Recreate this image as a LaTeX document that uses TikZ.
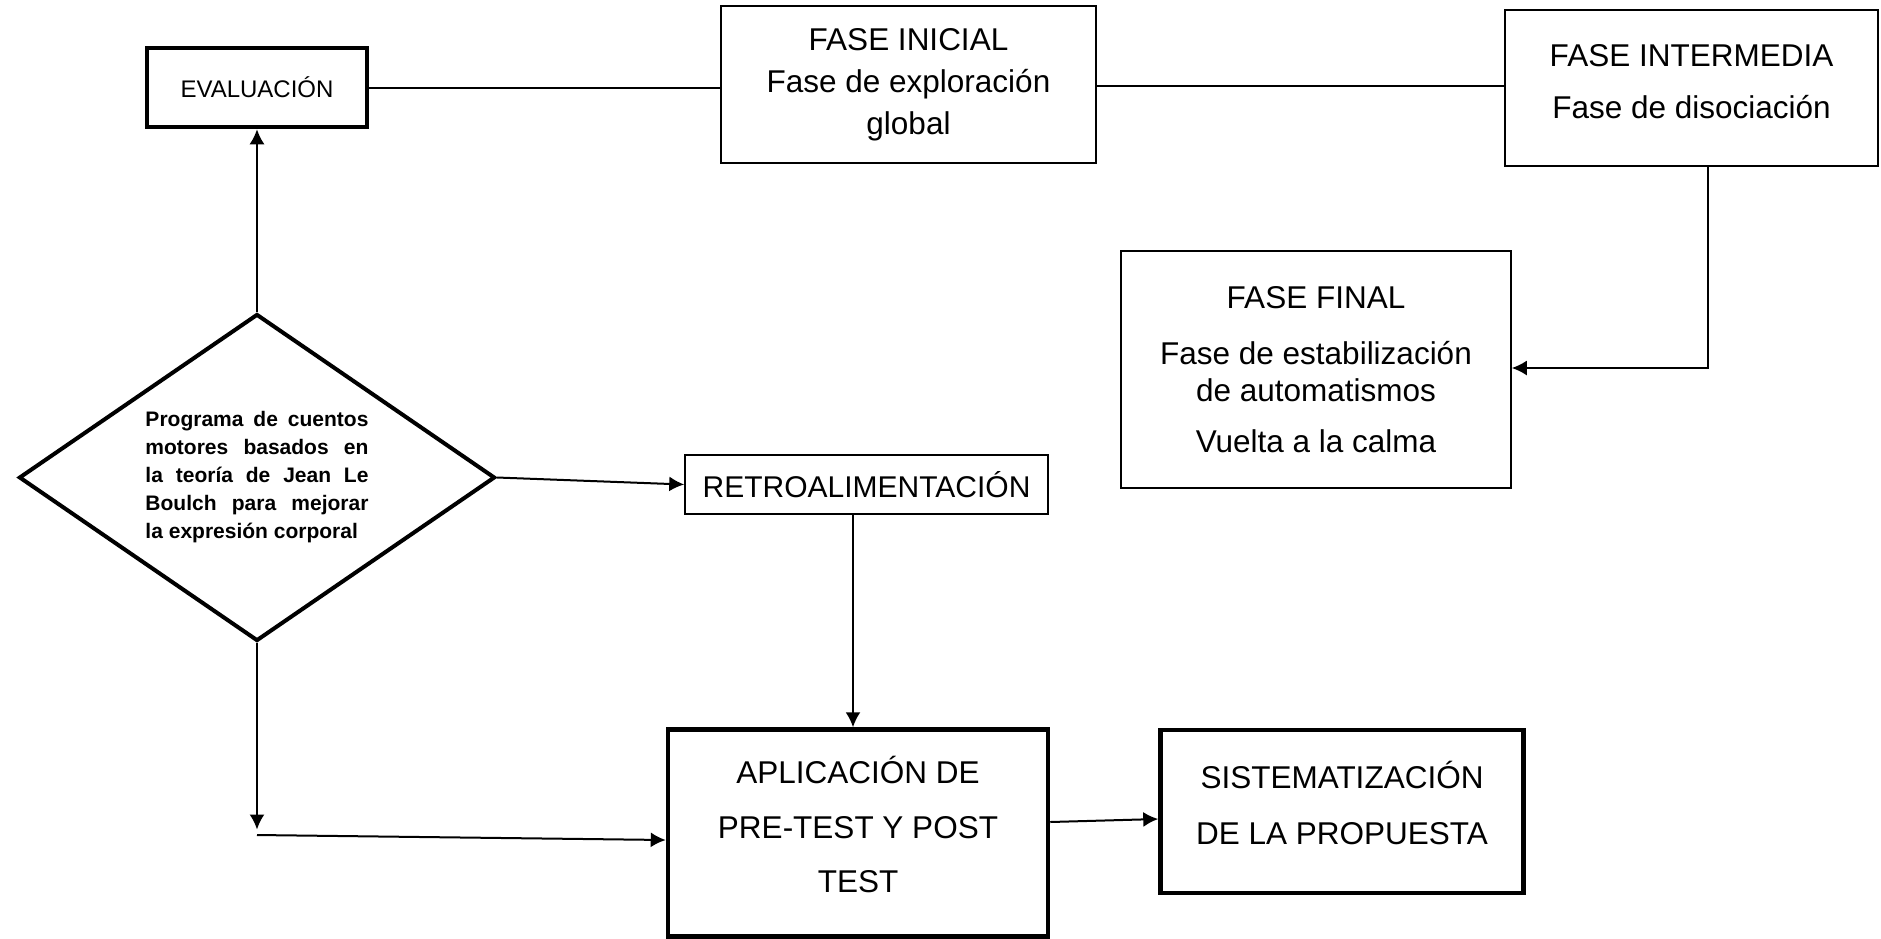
\documentclass[tikz,border=0pt]{standalone}
\usepackage{fontspec}
\setmainfont{Liberation Sans}
\usepackage{tikz}
\usetikzlibrary{shapes,arrows.meta,calc}
\tikzstyle{box} = [rectangle, draw, line width=1.5pt, align=center, inner sep=0pt,
    font=\fontsize{31.5}{37}\selectfont]
\tikzstyle{boldbox} = [box, line width=4.5pt]
\tikzstyle{decision} = [diamond, draw, line width=4pt, aspect=1.456, inner sep=0pt,
    minimum width=476pt, minimum height=327pt, text width=223pt, align=justify,
    font=\fontsize{21}{28}\selectfont\bfseries]
\tikzstyle{line} = [draw, line width=2pt, -{Latex[length=15pt,width=15pt]}]

\begin{document}
\begin{tikzpicture}[node distance = 200pt, auto]
    \useasboundingbox (-257pt,87.5pt) rectangle (1624pt,-850.5pt);
    % Place nodes
    \node [boldbox, minimum width=220pt, minimum height=79pt, font=\fontsize{24}{29}\selectfont] (eval) {EVALUACIÓN};
    \node [box, right of=eval, node distance=651.5pt, yshift=3pt, minimum width=375pt, minimum height=157pt] (inicial) {FASE INICIAL\\[5pt] Fase de exploración\\[5pt] global};
    \node [box, right of=inicial, node distance=783pt, yshift=-3.5pt, minimum width=373pt, minimum height=156pt] (intermedia) {FASE INTERMEDIA\\[15pt] Fase de disociación\\[-23pt] \mbox{}};
    \node [box, below of=intermedia, node distance=281.5pt, xshift=-375.5pt, minimum width=390pt, minimum height=237pt] (final) {FASE FINAL\\[19pt] Fase de estabilización\\ de automatismos\\[14pt] Vuelta a la calma};
    \node [decision, below of=eval, node distance=390pt] (prog) {Programa de cuentos\linebreak motores basados en\linebreak la teoría de Jean Le\linebreak Boulch para mejorar\linebreak la expresión corporal};
    \node [box, right of=prog, node distance=609.5pt, yshift=-7pt, minimum width=363pt, minimum height=59pt, font=\fontsize{30}{36}\selectfont] (retro) {RETROALIMENTACIÓN};
    \node [boldbox, below of=retro, node distance=348.5pt, xshift=-8.5pt, minimum width=380pt, minimum height=207pt] (aplic) {APLICACIÓN DE\\[18pt] PRE-TEST Y POST\\[17pt] TEST\\[-20pt] \mbox{}};
    \node [boldbox, right of=aplic, node distance=484pt, yshift=21.5pt, minimum width=363pt, minimum height=163pt] (sist) {SISTEMATIZACIÓN\\[19pt] DE LA PROPUESTA\\[-20pt] \mbox{}};
    \coordinate [below of=prog, node distance=352pt] (elbow);
    % Draw edges
    \path [draw, line width=2pt] (eval.east) -- (eval.east -| inicial.west);
    \path [draw, line width=2pt] ([yshift=-1pt]inicial.east) -- ([yshift=-1pt]inicial.east -| intermedia.west);
    \path [line] ([xshift=16.5pt]intermedia.south) |- ([yshift=1.5pt]final.east);
    \path [line] (prog.north) -- (eval.south);
    \path [line] (prog.east) -- (retro.west);
    \path [line] ([xshift=-13.5pt]retro.south) -- ([xshift=-5pt]aplic.north);
    \path [line] (prog.south) -- (elbow);
    \path [line] ([yshift=-5.5pt]elbow) -- ([yshift=-7pt]aplic.west);
    \path [line] ([yshift=11pt]aplic.east) -- ([yshift=-7.5pt]sist.west);
\end{tikzpicture}
\end{document}
